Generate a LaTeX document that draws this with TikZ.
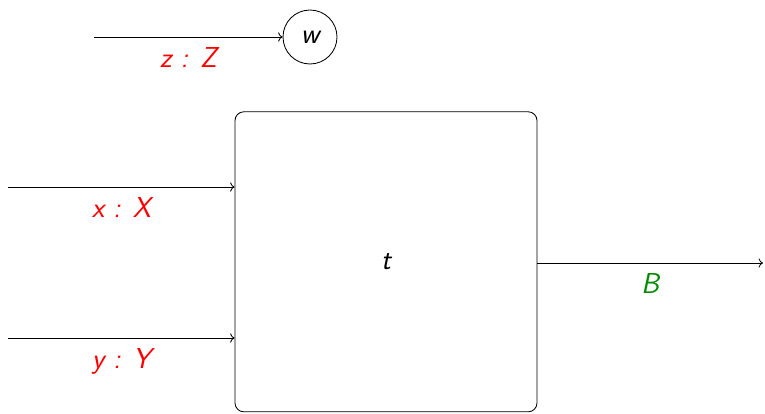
\documentclass[tikz,border=0pt]{standalone}
\usetikzlibrary{positioning, arrows.meta}

\begin{document}
\begin{tikzpicture}[
    font=\fontsize{20.5}{24}\selectfont\sffamily\itshape,
    line width=0.6pt,
    proc/.style={
        rectangle,
        rounded corners=0.22cm,
        draw,
        minimum width=7.55cm,
        minimum height=7.5cm
    },
    var/.style={
        circle,
        draw,
        minimum size=1.35cm,
        inner sep=0pt
    },
    arrow/.style={
        -{To[length=1.1mm, width=2.3mm]}
    },
    wirelabel/.style={
        below=0.13cm,
        text=red
    },
    outlabel/.style={
        below=0.13cm,
        text=green!55!black
    }
]

\useasboundingbox (0,0) rectangle (19.125,10.325);

\node[proc] (t) at (9.65,3.78) {t};
\node[var] (w) at (7.75,9.4) {w};

\coordinate (zin) at (2.35,9.4);
\coordinate (xin) at (0.2,5.65);
\coordinate (yin) at (0.2,1.875);
\coordinate (bout) at (19.075,3.75);

% inputs come in from the left, the result leaves on the right
\draw[arrow] (zin) -- node[wirelabel] {z : Z} (w);
\draw[arrow] (xin) -- node[wirelabel] {x : X} (xin -| t.west);
\draw[arrow] (yin) -- node[wirelabel] {y : Y} (yin -| t.west);
\draw[arrow] (bout -| t.east) -- node[outlabel] {B} (bout);

\end{tikzpicture}
\end{document}
